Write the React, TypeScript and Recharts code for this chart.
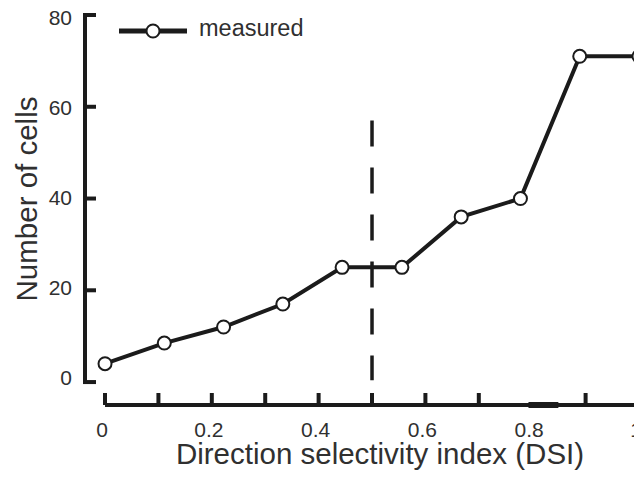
import { LineChart, Line, XAxis, YAxis, ReferenceLine, Legend, Label } from 'recharts'

// direction selectivity index bins and cell counts per bin
const dsi = [0, 0.111, 0.222, 0.333, 0.444, 0.556, 0.667, 0.778, 0.889, 1]
const cells = [4, 8.5, 12, 17, 25, 25, 36, 40, 71, 71]

const xTicks = [0, 0.1, 0.2, 0.3, 0.4, 0.5, 0.6, 0.7, 0.8, 0.9, 1]
const xTickLabels = ['0', '', '0.2', '', '0.4', '', '0.6', '', '0.8', '', '1']
const yTicks = [0, 20, 40, 60, 80]

// DSI threshold marker
const cutoff = 0.5
const cutoffTop = 57
const cutoffBottom = 0.4

const data = dsi.map((x, i) => ({ dsi: x, cells: cells[i] }))

const INK = '#1b1b1b'
const TEXT = '#303030'
const FONT = '"Liberation Sans", Arial, Helvetica, sans-serif'

// the axes are drawn detached from the data: y axis left of DSI 0, x axis below 0 cells
const X_MIN = -0.0375
const Y_MIN = -5

function XTick({ x, y, index }: any) {
  const value = xTicks[index]
  const label = xTickLabels[index]
  return (
    <g>
      {value !== 0.8 && <line x1={x} x2={x} y1={y} y2={y - 12} stroke={INK} strokeWidth={4} />}
      {label && (
        <text x={x - 3} y={y + 32} textAnchor="middle" fontSize={21} fill={TEXT} fontFamily={FONT}>
          {label}
        </text>
      )}
    </g>
  )
}

function YTick({ x, y, payload }: any) {
  // labels sit a little lower towards the top of the axis
  const drop = 3 + (payload.value / 80) * 7
  return (
    <g>
      <line x1={x - 2} x2={x + 11} y1={y} y2={y} stroke={INK} strokeWidth={4} />
      <text x={x - 13} y={y + drop} textAnchor="end" fontSize={21} fill={TEXT} fontFamily={FONT}>
        {payload.value}
      </text>
    </g>
  )
}

function LegendBox() {
  return (
    <div style={{ display: 'flex', alignItems: 'flex-start', fontFamily: FONT }}>
      <svg width={68} height={30}>
        <line x1={0} x2={68} y1={15} y2={15} stroke={INK} strokeWidth={5} />
        <circle cx={34} cy={15} r={6.5} fill="#fff" stroke={INK} strokeWidth={2} />
      </svg>
      <span style={{ marginLeft: 12, fontSize: 23.5, lineHeight: '24px', color: TEXT }}>measured</span>
    </div>
  )
}

export default function App() {
  return (
    <div style={{ position: 'absolute', left: 0, top: 0, width: 634, height: 482, overflow: 'hidden', background: '#fff' }}>
      <LineChart width={645} height={482} data={data} margin={{ top: 15, right: 6, left: 0, bottom: 0 }}>
        <XAxis
          dataKey="dsi"
          type="number"
          domain={[X_MIN, 1]}
          ticks={xTicks}
          interval={0}
          height={77}
          axisLine={false}
          tickLine={false}
          tickSize={0}
          tickMargin={0}
          tick={<XTick />}
        >
          <Label
            content={({ viewBox }: any) => (
              <text
                x={viewBox.x + viewBox.width / 2 + 18}
                y={viewBox.y + 59}
                textAnchor="middle"
                fontSize={29.5}
                fill={TEXT}
                fontFamily={FONT}
              >
                Direction selectivity index (DSI)
              </text>
            )}
          />
        </XAxis>
        <YAxis
          type="number"
          domain={[Y_MIN, 80]}
          ticks={yTicks}
          width={85}
          axisLine={false}
          tickLine={false}
          tickSize={0}
          tickMargin={0}
          tick={<YTick />}
        >
          <Label
            content={({ viewBox }: any) => {
              const cx = viewBox.x + 37
              const cy = viewBox.y + viewBox.height / 2 - 11
              return (
                <text
                  x={cx}
                  y={cy}
                  transform={`rotate(-90, ${cx}, ${cy})`}
                  textAnchor="middle"
                  fontSize={29.5}
                  fill={TEXT}
                  fontFamily={FONT}
                >
                  Number of cells
                </text>
              )
            }}
          />
        </YAxis>
        {/* axis lines */}
        <ReferenceLine segment={[{ x: X_MIN, y: 0 }, { x: X_MIN, y: 80 }]} stroke={INK} strokeWidth={4} ifOverflow="visible" />
        <ReferenceLine segment={[{ x: 0, y: Y_MIN }, { x: 1, y: Y_MIN }]} stroke={INK} strokeWidth={4} ifOverflow="visible" />
        <ReferenceLine segment={[{ x: 0.793, y: Y_MIN }, { x: 0.849, y: Y_MIN }]} stroke={INK} strokeWidth={6} ifOverflow="visible" />
        <ReferenceLine
          segment={[{ x: cutoff, y: cutoffTop }, { x: cutoff, y: cutoffBottom }]}
          stroke={INK}
          strokeWidth={3.5}
          strokeDasharray="26 21"
          ifOverflow="visible"
        />
        <Line
          type="linear"
          dataKey="cells"
          name="measured"
          stroke={INK}
          strokeWidth={4}
          dot={{ r: 6.5, fill: '#fff', stroke: INK, strokeWidth: 2 }}
          activeDot={false}
          isAnimationActive={false}
        />
        <Legend
          layout="vertical"
          align="center"
          verticalAlign="middle"
          wrapperStyle={{ top: 16, left: 119, width: 'auto', height: 'auto' }}
          content={<LegendBox />}
        />
      </LineChart>
    </div>
  )
}
